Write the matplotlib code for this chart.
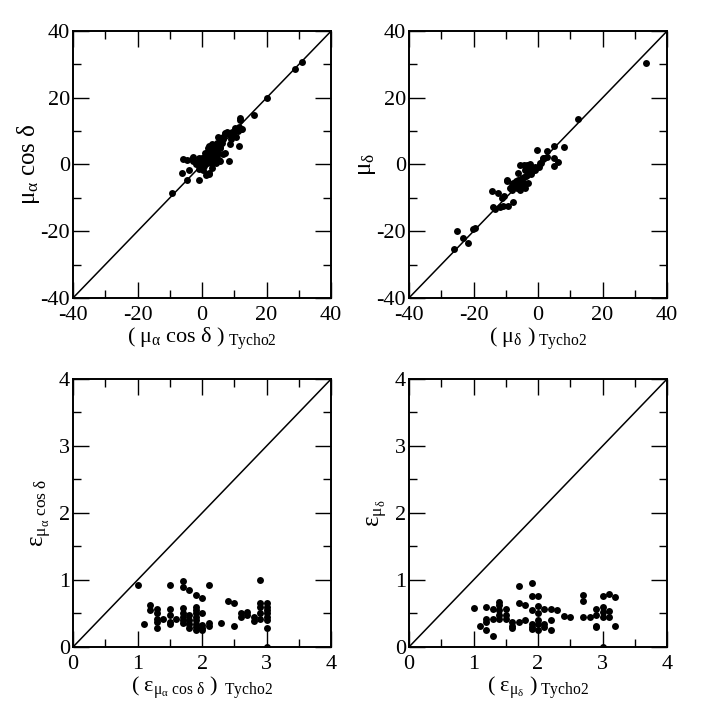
import matplotlib
matplotlib.use('Agg')
from matplotlib import pyplot as plt
from matplotlib.ticker import MultipleLocator

plt.rcParams['font.family'] = ['Liberation Serif', 'DejaVu Serif']
plt.rcParams['mathtext.fontset'] = 'custom'
plt.rcParams['mathtext.rm'] = 'Liberation Serif'
plt.rcParams['mathtext.it'] = 'Liberation Serif:italic'
plt.rcParams['axes.unicode_minus'] = False

# proper motion in RA (mas/yr): Tycho2 vs ours
pma_tyc = [-9.2, -6.3, -5.8, -4.8, -4.8, -3.9, -2.9, -2.7, -1.6, -1.1, -1.1, -0.6,
           -0.1, 0.4, 1.0, 1.4, 2.0, 2.5, 3.0, 3.5, 4.0, 4.6, 5.1, 5.6, 6.1, 6.6,
           7.1, 7.6, 8.7, 9.2, 10.2, 11.3, 11.8, 11.7, 12.3, 16.1, 20.0, 28.7, 30.9,
           1.4, 2.3, 7.1, 8.4, 8.7, 11.5, 0.5, 1.5, 2.0, 3.0, 2.5, 3.5, 4.0, 4.5,
           5.0, 0.0, -0.5, 1.0, 2.8, 3.8, 4.2, 5.5, 6.0, 6.5, 5.0, 3.2, 0.8, 1.8,
           -2.0, -3.0, 1.2, 2.0, 0.2, -1.0, 4.8, 7.0, 9.5, 10.5, 12.0, 11.0, 9.0,
           5.5, 6.5, 3.0, 4.5, 2.2]
pma_our = [-8.5, -2.6, 1.5, 1.3, -4.6, -1.6, 2.1, 1.1, 0.8, 1.8, -4.6, -0.7,
           0.3, 1.3, 2.3, 3.3, 0.8, 4.3, 5.3, 2.3, 3.8, 2.8, 1.3, 5.3, 6.3, 8.3,
           9.3, 9.8, 8.8, 9.8, 10.8, 11.3, 13.3, 13.8, 10.5, 14.8, 19.9, 28.6, 30.8,
           -2.9, -2.5, 3.3, 1.1, 6.1, 5.6, -0.5, 0.5, 1.5, 2.0, 3.0, 4.0, 5.0, 4.5,
           3.5, 2.0, 1.0, 0.0, 0.3, 1.5, 0.5, 5.0, 6.8, 7.5, 6.0, 6.0, 3.5, 4.8,
           0.2, 1.5, -3.2, -2.8, -1.5, -1.2, 8.2, 9.0, 9.0, 8.2, 10.5, 10.0, 7.5,
           1.0, 3.0, -1.0, 6.5, 5.5]

# proper motion in Dec (mas/yr)
pmd_tyc = [-26.0, -25.0, -23.2, -21.6, -20.3, -19.5, -14.4, -13.9, -13.3, -12.3,
           -11.3, -10.7, -11.8, -11.0, -9.5, -9.2, -7.7, -8.7, -8.2, -7.7, -7.1,
           -6.6, -6.1, -5.6, -5.1, -5.6, -4.5, -4.0, -3.5, -3.0, -2.5, -2.0, -1.5,
           -0.9, -4.5, -3.5, -4.0, -3.0, -6.1, -4.5, -0.2, 0.6, 1.6, 2.7, 2.9, 5.1,
           7.9, 5.1, 5.1, 6.1, 12.3, 33.6, -8.0, -7.0, -6.5, -7.5, -6.0, -5.0,
           -3.8, -2.8, -1.8, -1.0, 1.0, 1.5, -2.2, -3.2, -4.8, -5.5, -6.8, -8.5,
           0.3, 2.0, -2.4, -6.1, -9.7]
pmd_our = [-25.4, -19.8, -22.1, -23.6, -19.2, -19.1, -7.9, -12.8, -13.2, -8.6,
           -10.1, -9.4, -12.8, -12.4, -4.8, -12.4, -11.1, -7.1, -6.1, -5.6, -6.6,
           -5.1, -6.1, -4.6, -5.6, -0.2, -0.2, -1.7, -0.2, -1.2, -0.5, -1.7, -1.2,
           -1.7, -3.6, -3.1, -7.1, -5.6, -2.6, -5.6, 4.3, 0.3, 1.5, 2.1, 3.9, 5.6,
           5.3, 1.8, -0.4, 0.8, 13.6, 30.5, -7.5, -6.5, -7.0, -6.0, -5.5, -4.0,
           -3.5, -2.5, -2.0, -0.8, 0.5, 2.0, -2.8, -2.0, -6.5, -7.5, -5.0, -7.0,
           -0.8, 2.0, 0.0, -4.7, -4.7]

# errors in RA proper motion
era_tyc = [1.0, 1.1, 1.2, 1.2, 1.3, 1.3, 1.3, 1.3, 1.3, 1.4, 1.5, 1.5, 1.5, 1.5,
           1.5, 1.6, 1.7, 1.7, 1.7, 1.7, 1.7, 1.7, 1.7, 1.8, 1.8, 1.8, 1.8, 1.8,
           1.9, 1.9, 1.9, 1.9, 1.9, 1.9, 1.9, 1.9, 1.9, 2.0, 2.0, 2.0, 2.0, 2.0,
           2.1, 2.1, 2.1, 2.3, 2.4, 2.5, 2.5, 2.6, 2.6, 2.7, 2.7, 2.8, 2.8, 2.9,
           2.9, 2.9, 2.9, 2.9, 3.0, 3.0, 3.0, 3.0, 3.0, 3.0, 3.0, 3.0]
era_our = [0.92, 0.35, 0.62, 0.55, 0.56, 0.50, 0.42, 0.37, 0.29, 0.42, 0.92, 0.56,
           0.47, 0.38, 0.35, 0.42, 0.99, 0.89, 0.58, 0.50, 0.44, 0.40, 0.36, 0.85,
           0.47, 0.40, 0.35, 0.29, 0.77, 0.60, 0.55, 0.50, 0.45, 0.40, 0.35, 0.30,
           0.25, 0.73, 0.51, 0.33, 0.29, 0.25, 0.92, 0.36, 0.32, 0.36, 0.69, 0.65,
           0.32, 0.50, 0.45, 0.52, 0.47, 0.45, 0.39, 1.00, 0.65, 0.60, 0.50, 0.42,
           0.65, 0.60, 0.55, 0.50, 0.45, 0.40, 0.29, 0.0]

# errors in Dec proper motion
ede_tyc = [1.0, 1.1, 1.2, 1.2, 1.2, 1.2, 1.3, 1.3, 1.3, 1.4, 1.4, 1.4, 1.4, 1.4,
           1.5, 1.5, 1.5, 1.6, 1.6, 1.6, 1.7, 1.7, 1.7, 1.8, 1.8, 1.9, 1.9, 1.9,
           1.9, 1.9, 1.9, 2.0, 2.0, 2.0, 2.0, 2.0, 2.0, 2.1, 2.1, 2.1, 2.2, 2.2,
           2.2, 2.3, 2.4, 2.5, 2.7, 2.7, 2.7, 2.8, 2.9, 2.9, 2.9, 2.9, 3.0, 3.0,
           3.0, 3.0, 3.0, 3.1, 3.1, 3.1, 3.2, 3.2]
ede_our = [0.58, 0.32, 0.60, 0.42, 0.37, 0.26, 0.56, 0.42, 0.17, 0.67, 0.62, 0.55,
           0.47, 0.42, 0.57, 0.47, 0.42, 0.37, 0.32, 0.29, 0.91, 0.65, 0.38, 0.62,
           0.40, 0.96, 0.76, 0.55, 0.35, 0.30, 0.27, 0.76, 0.61, 0.50, 0.40, 0.35,
           0.25, 0.57, 0.35, 0.30, 0.57, 0.40, 0.25, 0.55, 0.46, 0.44, 0.77, 0.69,
           0.44, 0.44, 0.56, 0.47, 0.32, 0.30, 0.76, 0.60, 0.52, 0.45, 0.0, 0.79,
           0.54, 0.44, 0.74, 0.31]

fig = plt.figure(figsize=(7.13, 7.06), dpi=100)

ax_w, ax_h = 0.362, 0.378
axes_pos = [[0.1024, 0.578, ax_w, ax_h], [0.5736, 0.578, ax_w, ax_h],
            [0.1024, 0.0836, ax_w, 0.3796], [0.5736, 0.0836, ax_w, 0.3796]]

panels = [
    (pma_tyc, pma_our, (-40, 40), 20, 10,
     r'$\mathrm{(\ \mu_{\alpha}\ cos\ \delta\ )_{\ Tycho2}}$',
     r'$\mathrm{\mu_{\alpha}\ cos\ \delta}$', -1),
    (pmd_tyc, pmd_our, (-40, 40), 20, 10,
     r'$\mathrm{(\ \mu_{\delta}\ )_{\ Tycho2}}$',
     r'$\mathrm{\mu_{\delta}}$', -1),
    (era_tyc, era_our, (0, 4), 1, 0.5,
     r'$\mathrm{(\ \varepsilon_{\mu_{\alpha}\ cos\ \delta}\ )_{\ \ Tycho2}}$',
     r'$\mathrm{\varepsilon_{\mu_{\alpha}\ cos\ \delta}}$', 4),
    (ede_tyc, ede_our, (0, 4), 1, 0.5,
     r'$\mathrm{(\ \varepsilon_{\mu_{\delta}}\ )_{\ Tycho2}}$',
     r'$\mathrm{\varepsilon_{\mu_{\delta}}}$', 4),
]

for pos, (xs, ys, lim, major, minor, xlab, ylab, ypad) in zip(axes_pos, panels):
    ax = fig.add_axes(pos)
    ax.plot(lim, lim, color='black', lw=1.1)
    ax.plot(xs, ys, 'o', color='black', markersize=5, markeredgewidth=0)
    ax.set_xlim(lim)
    ax.set_ylim(lim)
    ax.xaxis.set_major_locator(MultipleLocator(major))
    ax.xaxis.set_minor_locator(MultipleLocator(minor))
    ax.yaxis.set_major_locator(MultipleLocator(major))
    ax.yaxis.set_minor_locator(MultipleLocator(minor))
    ax.tick_params(which='both', direction='in', top=True, right=True,
                   labelsize=16, width=1.0)
    ax.tick_params(axis='x', which='both', pad=6)
    ax.tick_params(axis='y', which='both', pad=2)
    ax.tick_params(which='major', length=11.5)
    ax.tick_params(which='minor', length=5.8)
    for sp in ax.spines.values():
        sp.set_linewidth(1.4)
    ax.set_xlabel(xlab, fontsize=16, labelpad=0)
    ax.set_ylabel(ylab, fontsize=18, labelpad=ypad)

fig.savefig('out.png', dpi=100)
